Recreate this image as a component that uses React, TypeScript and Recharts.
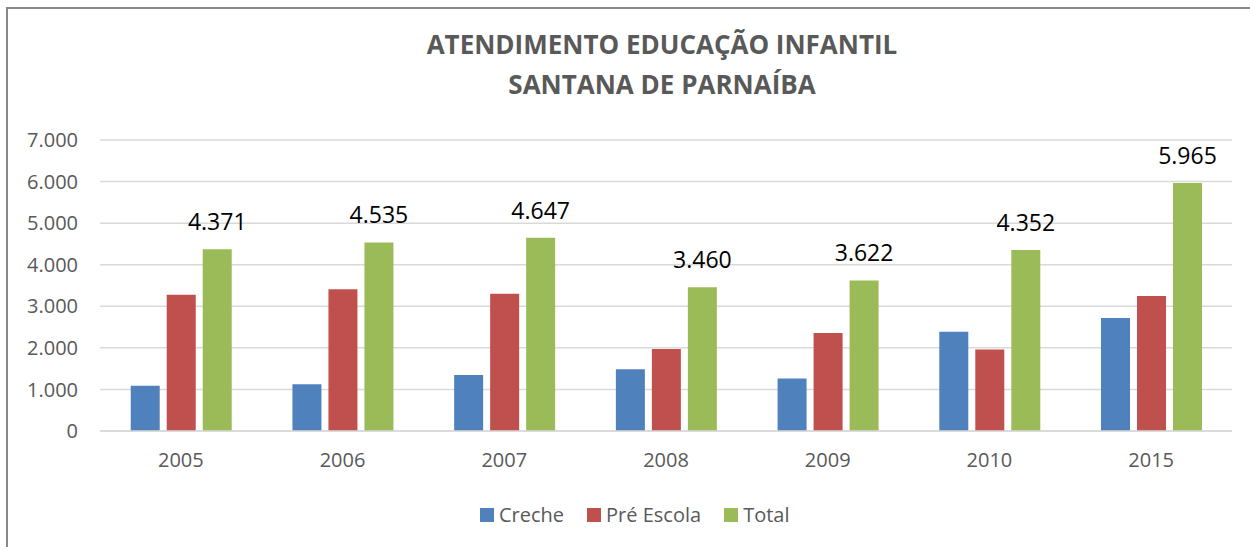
import { BarChart, Bar, XAxis, YAxis, CartesianGrid, LabelList } from "recharts";

const years = ["2005", "2006", "2007", "2008", "2009", "2010", "2015"];
const creche = [1091, 1124, 1348, 1486, 1265, 2390, 2720];
const preEscola = [3280, 3411, 3299, 1974, 2357, 1962, 3245];
const total = [4371, 4535, 4647, 3460, 3622, 4352, 5965];
const yTicks = [0, 1000, 2000, 3000, 4000, 5000, 6000, 7000];

const series = [
  { key: "creche", name: "Creche", color: "#4F81BD" },
  { key: "pre", name: "Pré Escola", color: "#C0504D" },
  { key: "total", name: "Total", color: "#9BBB59" },
];

const data = years.map((year, i) => ({
  year,
  creche: creche[i],
  pre: preEscola[i],
  total: total[i],
}));

const FONT = "'Open Sans', sans-serif";
const GREY = "#595959";

// 4371 -> "4.371"
const fmt = (v: number | string) =>
  String(v).replace(/\B(?=(\d{3})+(?!\d))/g, ".");

export default function App() {
  return (
    <div
      style={{
        position: "absolute",
        left: 0,
        top: 0,
        width: 1250,
        height: 547,
        overflow: "hidden",
        background: "#fff",
        fontFamily: FONT,
      }}
    >
      <div
        style={{
          position: "absolute",
          left: 6,
          top: 7,
          width: 1400,
          height: 700,
          border: "2px solid #898989",
        }}
      />
      <div
        style={{
          position: "absolute",
          left: 0,
          top: 24,
          width: 1324,
          textAlign: "center",
          fontWeight: 700,
          fontSize: 26,
          lineHeight: "40px",
          color: GREY,
        }}
      >
        ATENDIMENTO EDUCAÇÃO INFANTIL
        <br />
        SANTANA DE PARNAÍBA
      </div>

      <div style={{ position: "absolute", left: 0, top: 0 }}>
        <BarChart
          width={1250}
          height={547}
          data={data}
          margin={{ top: 140, right: 18, bottom: 86, left: 0 }}
          barCategoryGap="19%"
          barGap={7}
        >
          <CartesianGrid stroke="#d9d9d9" strokeWidth={1.5} vertical={false} />
          <XAxis
            dataKey="year"
            height={30}
            tickLine={false}
            tickSize={0}
            tickMargin={22}
            axisLine={{ stroke: "#d9d9d9", strokeWidth: 1.5 }}
            tick={{ fill: GREY, fontSize: 20, fontFamily: FONT }}
          />
          <YAxis
            width={100}
            domain={[0, 7000]}
            ticks={yTicks}
            tickFormatter={fmt}
            tickLine={false}
            tickSize={0}
            tickMargin={22}
            axisLine={false}
            tick={{ fill: GREY, fontSize: 20, fontFamily: FONT }}
          />
          {series.map((s) => (
            <Bar key={s.key} dataKey={s.key} name={s.name} fill={s.color} isAnimationActive={false}>
              {s.key === "total" && (
                <LabelList
                  dataKey="total"
                  position="top"
                  offset={19}
                  formatter={(v: any) => fmt(v)}
                  style={{ fill: "#000", fontSize: 23, fontFamily: FONT }}
                />
              )}
            </Bar>
          ))}
        </BarChart>
      </div>

      <div
        style={{
          position: "absolute",
          left: 480,
          top: 501,
          display: "flex",
          alignItems: "center",
          fontSize: 20,
          lineHeight: "28px",
          color: GREY,
        }}
      >
        {series.map((s) => (
          <div key={s.key} style={{ display: "flex", alignItems: "center", marginRight: 23 }}>
            <span style={{ width: 14, height: 14, background: s.color, marginRight: 5 }} />
            <span>{s.name}</span>
          </div>
        ))}
      </div>
    </div>
  );
}
